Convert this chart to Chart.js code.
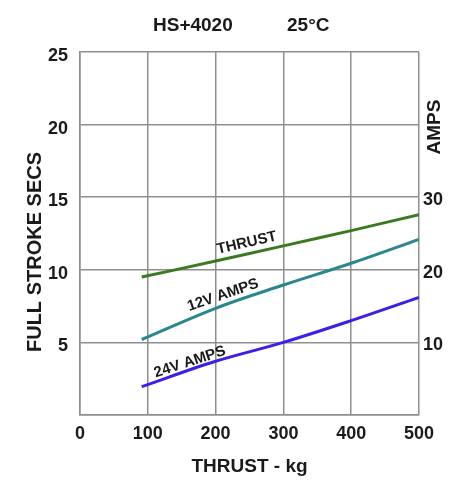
<!DOCTYPE html>
<html>
<head>
<meta charset="utf-8">
<script src="https://cdn.jsdelivr.net/npm/chart.js@4"></script>
<style>
html,body{margin:0;padding:0;background:#fff;}
#wrap{width:459px;height:482px;position:relative;}
</style>
</head>
<body>
<div id="wrap"><canvas id="c" width="459" height="482"></canvas></div>
<script>
// ---- data ----
const thrustKg   = [91, 200, 300, 400, 500];          // x values (kg)
const strokeSecs = [9.5, 10.6, 11.65, 12.7, 13.8];     // THRUST curve (left axis, secs)
const amps12V    = [10.4, 14.7, 17.9, 20.9, 24.2];     // 12V AMPS (right axis)
const amps24V    = [3.9, 7.4, 10.0, 13.0, 16.2];       // 24V AMPS (right axis)
const xTicks     = [0, 100, 200, 300, 400, 500];
const leftTicks  = [5, 10, 15, 20, 25];
const rightTicks = [10, 20, 30];

const FONT = "'Liberation Sans', Arial, sans-serif";
const pts = (xs, ys) => xs.map((x, i) => ({x, y: ys[i]}));

const textPlugin = {
  id: 'texts',
  afterDraw(chart) {
    const ctx = chart.ctx;
    const xs = chart.scales.x, ys = chart.scales.y;
    ctx.save();
    ctx.fillStyle = '#1a1a1a';
    // chart title
    ctx.font = 'bold 19px ' + FONT;
    ctx.textBaseline = 'middle';
    ctx.textAlign = 'left';
    ctx.fillText('HS+4020', 153, 26);
    ctx.fillText('25°C', 287, 26);
    // left axis title
    ctx.save();
    ctx.translate(35, 252);
    ctx.rotate(-Math.PI / 2);
    ctx.textAlign = 'center';
    ctx.font = 'bold 20px ' + FONT;
    ctx.fillText('FULL STROKE SECS', 0, 0);
    ctx.restore();
    // right axis title
    ctx.save();
    ctx.translate(435, 127);
    ctx.rotate(-Math.PI / 2);
    ctx.textAlign = 'center';
    ctx.font = 'bold 19px ' + FONT;
    ctx.fillText('AMPS', 0, 0);
    ctx.restore();
    // curve labels
    const labels = [
      ['THRUST', 246, 11.85, -13],
      ['12V AMPS', 211, 8.26, -19],
      ['24V AMPS', 162, 3.65, -18]
    ];
    ctx.font = 'bold 15px ' + FONT;
    ctx.textAlign = 'center';
    for (const [t, xv, yv, a] of labels) {
      ctx.save();
      ctx.translate(xs.getPixelForValue(xv), ys.getPixelForValue(yv));
      ctx.rotate(a * Math.PI / 180);
      ctx.fillText(t, 0, 0);
      ctx.restore();
    }
    ctx.restore();
  }
};

const gridColor = '#8e8e8e';

new Chart(document.getElementById('c'), {
  type: 'line',
  data: {
    datasets: [
      { label: 'THRUST', data: pts(thrustKg, strokeSecs), yAxisID: 'y',
        borderColor: '#3a7a20', borderWidth: 3, pointRadius: 0, tension: 0.35, fill: false },
      { label: '12V AMPS', data: pts(thrustKg, amps12V), yAxisID: 'y2',
        borderColor: '#2a8690', borderWidth: 3, pointRadius: 0, tension: 0.35, fill: false },
      { label: '24V AMPS', data: pts(thrustKg, amps24V), yAxisID: 'y2',
        borderColor: '#3a20e8', borderWidth: 3, pointRadius: 0, tension: 0.35, fill: false }
    ]
  },
  options: {
    responsive: false,
    animation: false,
    events: [],
    layout: { padding: { top: 52, left: 0, right: 0, bottom: 0 } },
    plugins: { legend: { display: false }, title: { display: false }, tooltip: { enabled: false } },
    scales: {
      x: {
        type: 'linear', min: 0, max: 500,
        afterBuildTicks: s => { s.ticks = xTicks.map(v => ({value: v})); },
        afterFit: s => { s.height = 67; },
        grid: { color: gridColor, lineWidth: 1.5, drawTicks: false },
        border: { color: gridColor, width: 1.5 },
        ticks: { padding: 8, color: '#1a1a1a', font: { family: FONT, size: 18, weight: 'bold' }, maxRotation: 0 },
        title: { display: true, text: 'THRUST - kg', color: '#1a1a1a',
                 font: { family: FONT, size: 19, weight: 'bold' }, padding: { top: 0, bottom: 4 } }
      },
      y: {
        type: 'linear', position: 'left', min: 0, max: 25,
        afterBuildTicks: s => { s.ticks = [0].concat(leftTicks).map(v => ({value: v})); },
        afterFit: s => { s.width = 80; },
        grid: { color: gridColor, lineWidth: 1.5, drawTicks: false },
        border: { color: gridColor, width: 1.5 },
        ticks: { padding: 12, labelOffset: 4, color: '#1a1a1a',
                 font: { family: FONT, size: 18, weight: 'bold' },
                 callback: v => leftTicks.includes(v) ? String(v) : '' }
      },
      y2: {
        type: 'linear', position: 'right', min: 0, max: 50,
        afterBuildTicks: s => { s.ticks = rightTicks.map(v => ({value: v})); },
        afterFit: s => { s.width = 40; },
        grid: { display: false, drawTicks: false },
        border: { display: false },
        ticks: { padding: 4, labelOffset: 3, color: '#1a1a1a',
                 font: { family: FONT, size: 18, weight: 'bold' } }
      }
    }
  },
  plugins: [textPlugin]
});
</script>
</body>
</html>
